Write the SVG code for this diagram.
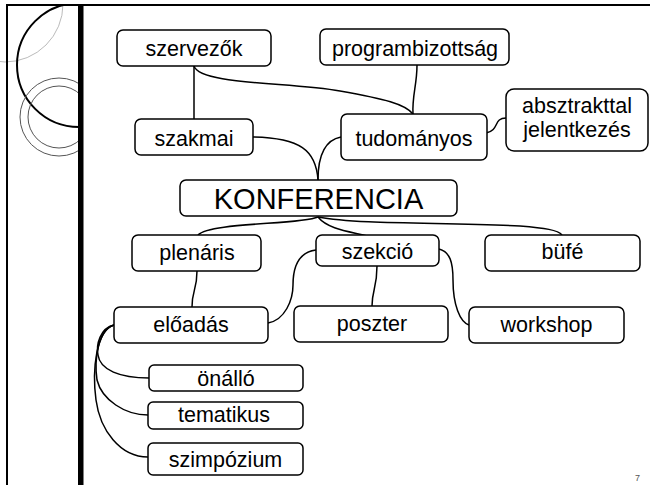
<svg xmlns="http://www.w3.org/2000/svg" width="650" height="485" viewBox="0 0 650 485">
<style>
.box{fill:#fff;stroke:#000;stroke-width:1.5}
.t{font-family:"Liberation Sans",Arial,sans-serif;font-size:21.5px;fill:#000;text-anchor:middle}
.c{fill:none;stroke:#000;stroke-width:1.5}
</style>
<defs>
<clipPath id="clip"><rect x="0" y="5" width="80" height="480"/></clipPath>
</defs>
<rect x="0" y="0" width="650" height="485" fill="#fff"/>
<g id="decor">
<g clip-path="url(#clip)" fill="none">
<circle cx="5" cy="4" r="58" stroke="#bbb" stroke-width="1"/>
<circle cx="79" cy="65" r="62" stroke="#000" stroke-width="2"/>
<circle cx="59" cy="117" r="39" stroke="#555" stroke-width="1"/>
<circle cx="59" cy="117" r="31" stroke="#555" stroke-width="1"/>
</g>
<line x1="7" y1="5" x2="650" y2="5" stroke="#000" stroke-width="2"/>
<line x1="7" y1="4" x2="7" y2="485" stroke="#000" stroke-width="2"/>
<rect x="78" y="4" width="5.5" height="481" fill="#000"/>
</g>
<g id="connectors">
<path class="c" d="M194,66 L194,119"/>
<path class="c" d="M194,66 C200,85 290,82 340,91 C385,99 405,104 413,114"/>
<path class="c" d="M417,65 C417,85 412,95 413,114"/>
<path class="c" d="M253,137 C300,138 316,150 318,180"/>
<path class="c" d="M341,137 C325,140 318,155 318,180"/>
<path class="c" d="M486,133 C500,130 493,118 506,118"/>
<path class="c" d="M318,217 C300,225 210,222 198,235"/>
<path class="c" d="M318,217 C330,232 360,232 377,239"/>
<path class="c" d="M318,217 C360,225 450,222 520,226 C545,228 558,230 562,235"/>
<path class="c" d="M316,250 C300,252 293,265 293,285 C293,300 285,320 268,323"/>
<path class="c" d="M377,266 C377,288 372,290 372,306"/>
<path class="c" d="M439,249 C450,252 453,262 453,280 C453,305 460,322 469,325"/>
<path class="c" d="M197,271 C197,290 192,290 192,307"/>
<path class="c" d="M114,325 C100,328 96,345 98,355 C100,370 120,378 149,378"/>
<path class="c" d="M114,325 C98,330 94,360 97,380 C102,400 125,415 148,415"/>
<path class="c" d="M114,325 C96,330 92,370 96,400 C100,430 120,457 148,457"/>
</g>
<g id="szervezok"><rect class="box" x="117" y="30" width="154" height="36" rx="6"/><text class="t" x="194" y="56">szervezők</text></g>
<g id="programbizottsag"><rect class="box" x="320" y="29" width="189" height="36" rx="6"/><text class="t" x="415" y="56">programbizottság</text></g>
<g id="szakmai"><rect class="box" x="135" y="119" width="118" height="36" rx="6"/><text class="t" x="194" y="146">szakmai</text></g>
<g id="tudomanyos"><rect class="box" x="341" y="114" width="146" height="46" rx="6"/><text class="t" x="414" y="146">tudományos</text></g>
<g id="absztrakttal"><rect class="box" x="506" y="89" width="142" height="62" rx="8"/><text class="t" x="577" y="113">absztrakttal</text><text class="t" x="577" y="137">jelentkezés</text></g>
<g id="konferencia"><rect class="box" x="180" y="180" width="277" height="36" rx="6"/><text class="t" x="318.5" y="209" style="font-size:29px">KONFERENCIA</text></g>
<g id="plenaris"><rect class="box" x="132" y="235" width="129" height="36" rx="6"/><text class="t" x="197" y="260">plenáris</text></g>
<g id="szekcio"><rect class="box" x="316" y="235" width="123" height="31" rx="6"/><text class="t" x="377.5" y="259">szekció</text></g>
<g id="bufe"><rect class="box" x="485" y="235" width="155" height="36" rx="6"/><text class="t" x="562.5" y="259">büfé</text></g>
<g id="eloadas"><rect class="box" x="114" y="307" width="154" height="36" rx="6"/><text class="t" x="191" y="331.5">előadás</text></g>
<g id="poszter"><rect class="box" x="294" y="306" width="154" height="36" rx="6"/><text class="t" x="372" y="331">poszter</text></g>
<g id="workshop"><rect class="box" x="469" y="307" width="155" height="36" rx="6"/><text class="t" x="546.5" y="331.5">workshop</text></g>
<g id="onallo"><rect class="box" x="149" y="365" width="154" height="26" rx="5"/><text class="t" x="226" y="386">önálló</text></g>
<g id="tematikus"><rect class="box" x="148" y="402" width="155" height="27" rx="5"/><text class="t" x="224" y="422">tematikus</text></g>
<g id="szimpozium"><rect class="box" x="148" y="443" width="155" height="32" rx="5"/><text class="t" x="225.5" y="467">szimpózium</text></g>
<text x="635" y="481" style="font-family:'Liberation Sans',Arial,sans-serif;font-size:9px;fill:#555">7</text>
</svg>
